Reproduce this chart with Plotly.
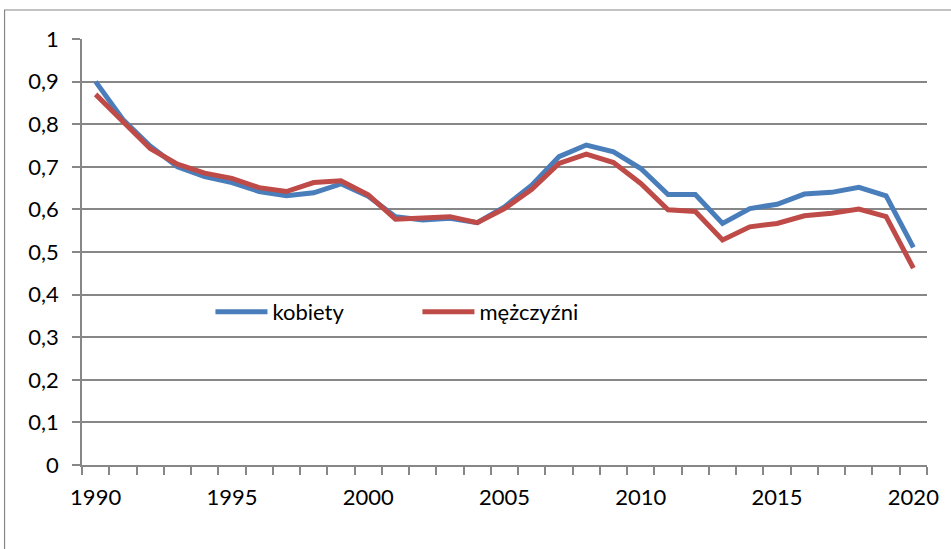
import plotly.graph_objects as go

years = list(range(1990, 2021))
kobiety = [0.900, 0.811, 0.749, 0.700, 0.677, 0.663, 0.642, 0.632, 0.639, 0.660,
           0.631, 0.583, 0.575, 0.579, 0.569, 0.606, 0.657, 0.724, 0.751, 0.735,
           0.696, 0.635, 0.635, 0.567, 0.602, 0.612, 0.636, 0.640, 0.652, 0.632,
           0.511]
mezczyzni = [0.870, 0.807, 0.743, 0.706, 0.685, 0.673, 0.651, 0.642, 0.663, 0.667,
             0.634, 0.577, 0.579, 0.583, 0.569, 0.602, 0.647, 0.708, 0.730, 0.710,
             0.661, 0.599, 0.595, 0.528, 0.559, 0.567, 0.585, 0.591, 0.601, 0.583,
             0.462]
x_labels = [1990, 1995, 2000, 2005, 2010, 2015, 2020]
y_ticks = [i / 10 for i in range(11)]

FONT = "Lato"
FSIZE = 22
GRID = "#878787"

fig = go.Figure()
fig.add_trace(go.Scatter(x=years, y=kobiety, mode="lines", name="kobiety",
                         line=dict(color="#4A7EBB", width=5)))
fig.add_trace(go.Scatter(x=years, y=mezczyzni, mode="lines", name="mężczyźni",
                         line=dict(color="#BE4B48", width=5)))

fig.update_layout(
    width=951, height=549,
    margin=dict(l=82, r=18, t=39, b=84),
    paper_bgcolor="white", plot_bgcolor="white",
    separators=", ",
    font=dict(family=FONT, size=FSIZE, color="black"),
    showlegend=True,
    legend=dict(orientation="h", x=0.152, y=0.359, xanchor="left", yanchor="middle",
                itemwidth=52, entrywidth=140, entrywidthmode="pixels",
                bgcolor="rgba(0,0,0,0)", font=dict(family=FONT, size=FSIZE)),
    xaxis=dict(range=[1989.5, 2020.5], tickvals=x_labels, ticks="",
               ticklabelstandoff=12,
               showgrid=False, showline=True, linecolor=GRID, linewidth=1.5,
               zeroline=False,
               minor=dict(tick0=1989.5, dtick=1, ticks="outside", ticklen=8,
                          tickcolor=GRID, tickwidth=1.5, showgrid=False),
               tickfont=dict(family=FONT, size=FSIZE)),
    yaxis=dict(range=[0, 1], tickvals=y_ticks, ticks="outside", ticklen=8,
               tickcolor=GRID, tickwidth=1.5, ticklabelstandoff=9,
               showgrid=True, gridcolor=GRID, gridwidth=1.5,
               showline=True, linecolor=GRID, linewidth=1.5, zeroline=False,
               tickfont=dict(family=FONT, size=FSIZE)),
)

# outer chart frame
fig.add_shape(type="rect", xref="paper", yref="paper",
              x0=(4 - 82) / 851, x1=1.1, y0=-0.5, y1=(465 - 10) / 426,
              line=dict(color=GRID, width=1.2), layer="below")

fig.write_html("out.html")
